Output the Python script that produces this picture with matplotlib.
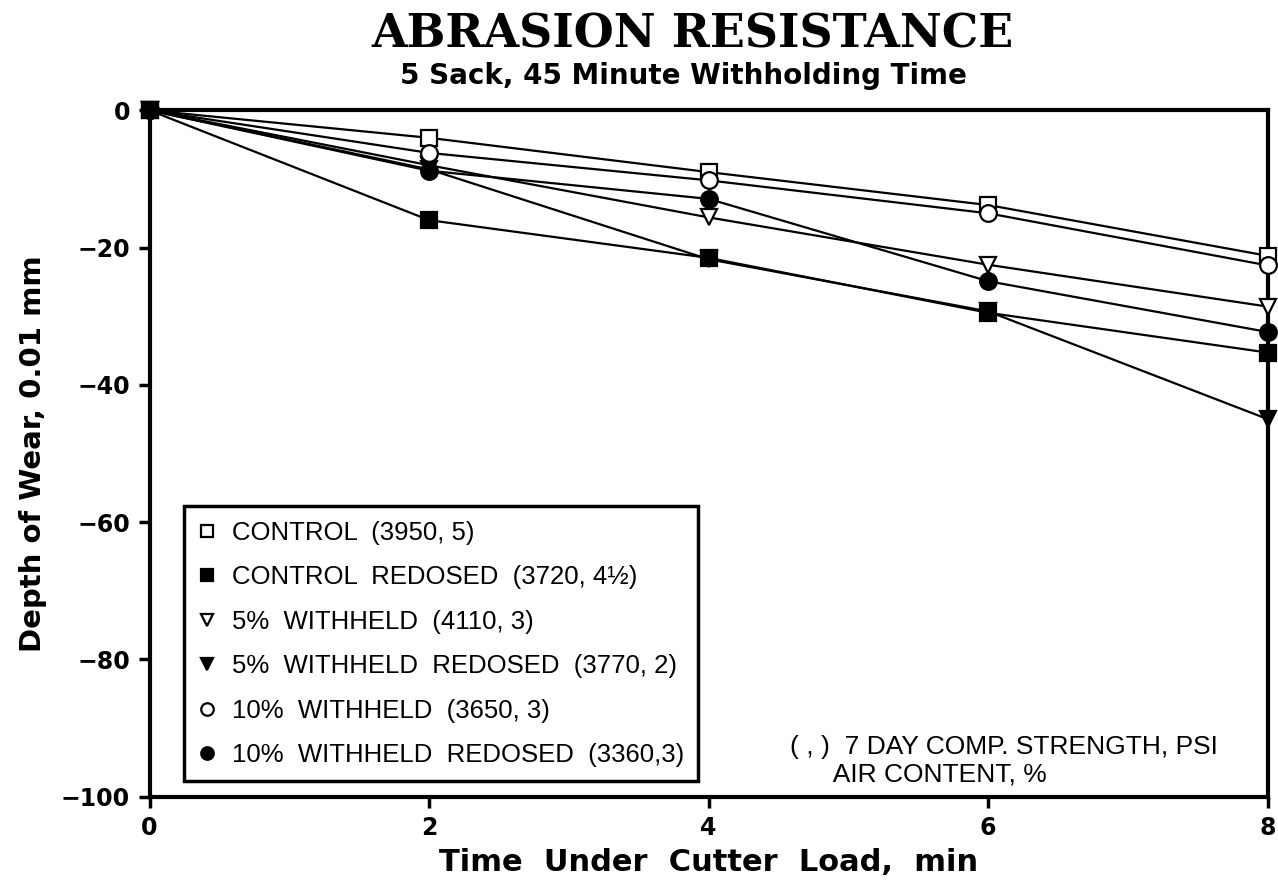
import matplotlib.pyplot as plt

time_min = [0, 2, 4, 6, 8]
control = [0, -4.0, -9.0, -13.8, -21.2]
control_redosed = [0, -16.0, -21.5, -29.5, -35.3]
w5 = [0, -8.0, -15.6, -22.5, -28.6]
w5_redosed = [0, -8.6, -21.7, -29.3, -45.0]
w10 = [0, -6.2, -10.2, -15.0, -22.6]
w10_redosed = [0, -8.8, -12.9, -24.9, -32.3]

labels = [
    "CONTROL  (3950, 5)",
    "CONTROL  REDOSED  (3720, 4½)",
    "5%  WITHHELD  (4110, 3)",
    "5%  WITHHELD  REDOSED  (3770, 2)",
    "10%  WITHHELD  (3650, 3)",
    "10%  WITHHELD  REDOSED  (3360,3)",
]

fig = plt.figure(figsize=(12.78, 8.90), dpi=100)
ax = fig.add_axes([0.117, 0.105, 0.875, 0.771])

series = [
    (control, "s", "white"),
    (control_redosed, "s", "black"),
    (w5, "v", "white"),
    (w5_redosed, "v", "black"),
    (w10, "o", "white"),
    (w10_redosed, "o", "black"),
]
for (vals, mk, fc), lab in zip(series, labels):
    ax.plot(time_min, vals, color="black", lw=1.6, marker=mk, markersize=12,
            markerfacecolor=fc, markeredgecolor="black", markeredgewidth=1.6,
            label=lab, clip_on=False, zorder=3)

ax.set_xlim(0, 8)
ax.set_ylim(-100, 0)
ax.set_xticks([0, 2, 4, 6, 8])
ax.set_yticks([0, -20, -40, -60, -80, -100])
ax.set_yticklabels(["0", "\u221220", "\u221240", "\u221260", "\u221280", "\u2212100"])
for s in ax.spines.values():
    s.set_linewidth(3)
ax.tick_params(direction="out", length=8, width=2.5, labelsize=17, pad=6)
for t in ax.get_xticklabels() + ax.get_yticklabels():
    t.set_fontweight("heavy")

ax.set_xlabel("Time  Under  Cutter  Load,  min", fontsize=22, fontweight="heavy", labelpad=6)
ax.set_ylabel("Depth of Wear, 0.01 mm", fontsize=21, fontweight="heavy", labelpad=10)

fig.text(0.542, 0.961, "ABRASION RESISTANCE", ha="center", va="center",
         fontsize=33, fontweight="bold", family="DejaVu Serif")
fig.text(0.535, 0.915, "5 Sack, 45 Minute Withholding Time", ha="center", va="center",
         fontsize=20, fontweight="heavy")

leg = ax.legend(loc="lower left", bbox_to_anchor=(0.031, 0.022), borderaxespad=0,
                prop={"family": "Liberation Sans", "size": 18.5},
                frameon=True, fancybox=False, framealpha=1, edgecolor="black",
                handlelength=0.7, handletextpad=0.6, labelspacing=0.8,
                borderpad=0.55, markerscale=0.75)
for h in leg.get_lines():
    h.set_linestyle("none")
leg.get_frame().set_linewidth(2.5)

ax.text(0.573, 0.052, "( , )  7 DAY COMP. STRENGTH, PSI\n      AIR CONTENT, %",
        transform=ax.transAxes, fontsize=19, family="Liberation Sans",
        va="center", ha="left", linespacing=1.15)

fig.savefig("out.png", dpi=100)
